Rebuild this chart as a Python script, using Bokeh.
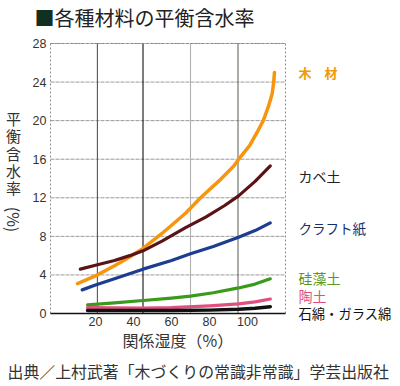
from bokeh.plotting import figure
from bokeh.models import Range1d, Label
from bokeh.core.properties import value
from bokeh.embed import file_html
from bokeh.resources import INLINE

# ---- data ----
y_ticks = [0, 4, 8, 12, 16, 20, 24, 28]
x_ticks = [20, 40, 60, 80, 100]
grid_x = [21, 45, 70, 95]

wood_x = [10.5, 20, 30, 38, 45, 55, 67.4, 75.3, 85, 92.8, 95.4, 101.1, 105.1, 108.3, 110.9, 113.0, 113.8, 114.2]
wood_y = [3.1, 3.9, 4.95, 5.85, 6.75, 8.3, 10.4, 12.0, 13.75, 15.3, 16.0, 17.4, 18.8, 20.0, 21.4, 22.8, 24.0, 25.0]

wall_x = [12, 20, 30, 38, 45, 55, 67.4, 78, 88, 95.3, 104, 112]
wall_y = [4.6, 5.0, 5.5, 6.0, 6.5, 7.5, 8.9, 10.0, 11.2, 12.2, 13.7, 15.3]

kraft_x = [13, 20, 30, 45, 60, 70, 82, 95.3, 104, 112]
kraft_y = [2.45, 2.95, 3.6, 4.6, 5.5, 6.2, 6.95, 7.9, 8.6, 9.4]

diat_x = [15.8, 30, 45, 60, 70, 82, 95.3, 104, 112]
diat_y = [0.9, 1.1, 1.35, 1.6, 1.8, 2.15, 2.65, 3.05, 3.6]

clay_x = [15.8, 45, 60, 80, 95.3, 104, 112]
clay_y = [0.6, 0.55, 0.6, 0.8, 1.0, 1.2, 1.5]

glass_x = [15.8, 60, 80, 95.3, 104, 112]
glass_y = [0.3, 0.3, 0.35, 0.45, 0.55, 0.7]

names = ["木　材", "カベ土", "クラフト紙", "硅藻土", "陶土", "石綿・ガラス綿"]

# ---- geometry (page pixels) ----
W, H = 400, 386
X0PX, XSCALE = 57.0, 1.9        # page x of value 0, px per unit
Y0PX, YSCALE = 313.0, 9.643     # page y of value 0, px per unit
x_lo, x_hi = -3.7, 120.0        # plotting box
y_lo, y_hi = 0.0, 28.0

def fx(px):
    return (px - X0PX) / XSCALE

def fy(py):
    return (Y0PX - py) / YSCALE

p = figure(width=W, height=H, output_backend="svg", toolbar_location=None,
           x_range=Range1d(fx(0), fx(W)), y_range=Range1d(fy(H), fy(0)),
           x_axis_location=None, y_axis_location=None,
           min_border=0, min_border_left=0, min_border_right=0,
           min_border_top=0, min_border_bottom=0)
p.outline_line_color = None
p.background_fill_color = "white"
p.border_fill_color = "white"
p.grid.visible = False

# horizontal grid
p.segment(x0=x_lo, x1=x_hi, y0=y_ticks[1:], y1=y_ticks[1:], line_color="#9a9a9a",
          line_width=1, line_dash="4 1")
# vertical grid
vcolors = ["#555555", "#111111", "#b0b0b0", "#6a6a60"]
p.segment(x0=grid_x, x1=grid_x, y0=y_lo, y1=y_hi, line_color=vcolors, line_width=1.1)
# box: left, top, right dashed grey
p.segment(x0=[x_lo, x_lo, x_hi], x1=[x_lo, x_hi, x_hi], y0=[y_lo, y_hi, y_lo],
          y1=[y_hi, y_hi, y_hi], line_color="#8a8a8a", line_width=1, line_dash="2 2")
# bottom axis line
p.segment(x0=x_lo, x1=x_hi, y0=y_lo, y1=y_lo, line_color="#111111", line_width=1.6)

# tick labels
NUMF = value("Liberation Sans")
p.text(x=fx(46), y=y_ticks, text=[str(t) for t in y_ticks], text_align="right",
       text_baseline="middle", text_font=NUMF,
       text_font_size="12.5px", text_color="#333333")
p.text(x=x_ticks, y=fy(316), text=[str(t) for t in x_ticks], text_align="center",
       text_baseline="top", text_font=NUMF,
       text_font_size="12.5px", text_color="#333333")

# curves
series = [
    (wood_x, wood_y, "#f7960e", 3.5),
    (wall_x, wall_y, "#5a1418", 3.2),
    (kraft_x, kraft_y, "#1d3c92", 3.2),
    (diat_x, diat_y, "#3a9a1c", 3.2),
    (clay_x, clay_y, "#e0507e", 3.2),
    (glass_x, glass_y, "#111111", 3.5),
]
for xs, ys, c, w in series:
    p.line(xs, ys, line_color=c, line_width=w, line_cap="round", line_join="round")

JP = "Noto Sans CJK JP"

def lab(px, py, text, size, color, align="left", style="normal", angle=0.0):
    p.add_layout(Label(x=fx(px), y=fy(py), text=text,
                       text_font=JP, text_font_size=size, text_color=color,
                       text_baseline="middle", text_align=align,
                       text_font_style=style, angle=angle))

# series labels on right
label_pos = [72, 175, 227, 277, 295, 313]
label_col = ["#f39800", "#222222", "#1b2f66", "#5a9a1a", "#e0507e", "#111111"]
label_size = ["13px", "14px", "13.5px", "14px", "14px", "13.3px"]
label_style = ["bold", "normal", "normal", "normal", "normal", "normal"]
for n, py, c, s, st in zip(names, label_pos, label_col, label_size, label_style):
    lab(298, py, n, s, c, style=st)

# title
lab(34, 17, "■", "20px", "#123020")
lab(54, 17, "各種材料の平衡含水率", "20px", "#222222")

# y-axis title, stacked
for i, ch in enumerate("平衡含水率"):
    lab(13, 118 + i * 17.3, ch, "15px", "#333333", align="center")
lab(13, 219, "(%)", "16px", "#333333", align="center", angle=-1.5708)

# x-axis title
lab(122, 339, "関係湿度（%）", "16px", "#333333")

# source
lab(7, 371, "出典／上村武著「木づくりの常識非常識」学芸出版社", "15.9px", "#333333")

open("out.html", "w").write(file_html(p, INLINE))
